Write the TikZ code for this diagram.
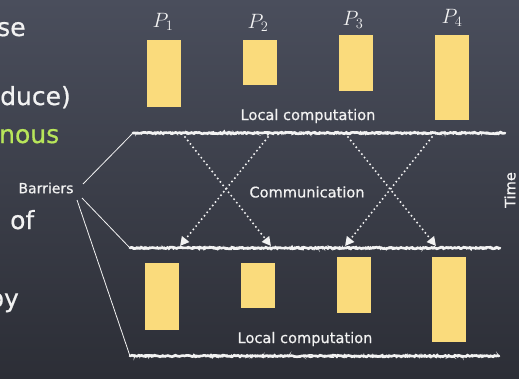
\documentclass[tikz,border=0pt]{standalone}
\usepackage{fontspec}
\setmainfont{DejaVu Sans}
\newfontfamily\chalkfont[FakeBold=0.6]{DejaVu Sans}
\usetikzlibrary{decorations.pathmorphing,arrows.meta}

\definecolor{boardtop}{HTML}{4A4E5C}
\definecolor{boardbot}{HTML}{2C2E36}
\definecolor{block}{HTML}{FADB7C}
\definecolor{chalk}{HTML}{F2F2F2}
\definecolor{lime}{HTML}{B8E65A}

\tikzset{
  blk/.style={fill=block, draw=none, inner sep=0pt, anchor=north west,
              minimum width=34pt},
  plabel/.style={text=chalk, inner sep=0pt, font=\fontsize{20}{22}\selectfont},
  caption/.style={text=chalk, inner sep=0pt, font=\chalkfont\fontsize{14.6}{16}\selectfont},
  slidetext/.style={text=chalk, inner sep=0pt, anchor=base west,
                    font=\chalkfont\fontsize{25}{28}\selectfont},
  barrier/.style={chalk, line width=2.6pt, line cap=round,
                  decorate, decoration={random steps, segment length=1.5pt, amplitude=0.8pt}},
  barrierdust/.style={chalk, line width=0.9pt, line cap=round,
                  decorate, decoration={random steps, segment length=1.2pt, amplitude=1.4pt}},
  msg/.style={chalk, line width=2.2pt, line cap=round, dash pattern=on 0pt off 4.4pt,
              -{Triangle[length=9pt, width=9pt]}},
  pointer/.style={chalk, line width=0.8pt},
}

\begin{document}
\begin{tikzpicture}[x=1pt, y=-1pt]
  % chalkboard
  \shade[top color=boardtop, bottom color=boardbot] (0,0) rectangle (519,378);
  \useasboundingbox (0,0) rectangle (519,378);
  \pgfmathsetseed{11}

  % fragments of the slide text on the left
  \node[slidetext] (w1) at (-3,36) {se};
  \node[slidetext] (w2) at (0,105) {duce)};
  \node[slidetext, text=lime] (w3) at (-1,143) {nous};
  \node[slidetext] (w4) at (10,229) {of};
  \node[slidetext] (w5) at (-12,307) {py};

  % processor labels
  \node[plabel] (p1) at (163,22) {$P_1$};
  \node[plabel] (p2) at (258,23) {$P_2$};
  \node[plabel] (p3) at (353,20) {$P_3$};
  \node[plabel] (p4) at (452,18) {$P_4$};

  % first computation phase
  \node[blk, minimum height=67pt] (t1) at (147,40) {};
  \node[blk, minimum height=45pt] (t2) at (243,40) {};
  \node[blk, minimum height=56pt] (t3) at (339,35) {};
  \node[blk, minimum height=85pt] (t4) at (435,35) {};
  \node[caption] (lc1) at (308,116) {Local computation};

  % barriers
  \coordinate (b1w) at (133,133); \coordinate (b1e) at (505,133);
  \coordinate (b2w) at (130,248); \coordinate (b2e) at (500,248);
  \coordinate (b3w) at (130,356); \coordinate (b3e) at (499,356);
  \foreach \w/\e in {b1w/b1e, b2w/b2e, b3w/b3e} {
    \draw[barrier] (\w) -- (\e);
    \draw[barrierdust] (\w) -- (\e);
  }

  % communication phase
  \coordinate (s1) at (185,137); \coordinate (d1) at (271,246);
  \coordinate (s2) at (268,137); \coordinate (d2) at (180,246);
  \coordinate (s3) at (348,137); \coordinate (d3) at (436,246);
  \coordinate (s4) at (432,137); \coordinate (d4) at (345,246);
  \draw[msg] (s1) -- (d1);
  \draw[msg] (s2) -- (d2);
  \draw[msg] (s3) -- (d3);
  \draw[msg] (s4) -- (d4);
  \node[caption] (comm) at (307,192) {Communication};
  \node[caption, rotate=90] (time) at (510,190) {Time};

  % second computation phase
  \node[blk, minimum height=67pt] (u1) at (145,263) {};
  \node[blk, minimum height=45pt] (u2) at (241,263) {};
  \node[blk, minimum height=56pt] (u3) at (337,257) {};
  \node[blk, minimum height=85pt] (u4) at (432,257) {};
  \node[caption] (lc2) at (305,339) {Local computation};

  % barrier callout
  \node[caption, font=\chalkfont\fontsize{14}{16}\selectfont] (bar) at (46,188) {Barriers};
  \coordinate (q1) at (83,184);
  \coordinate (q2) at (82,198);
  \coordinate (q3) at (77,200);
  \draw[pointer] (q1) -- (b1w);
  \draw[pointer] (q2) -- (b2w);
  \draw[pointer] (q3) -- (b3w);
\end{tikzpicture}
\end{document}
